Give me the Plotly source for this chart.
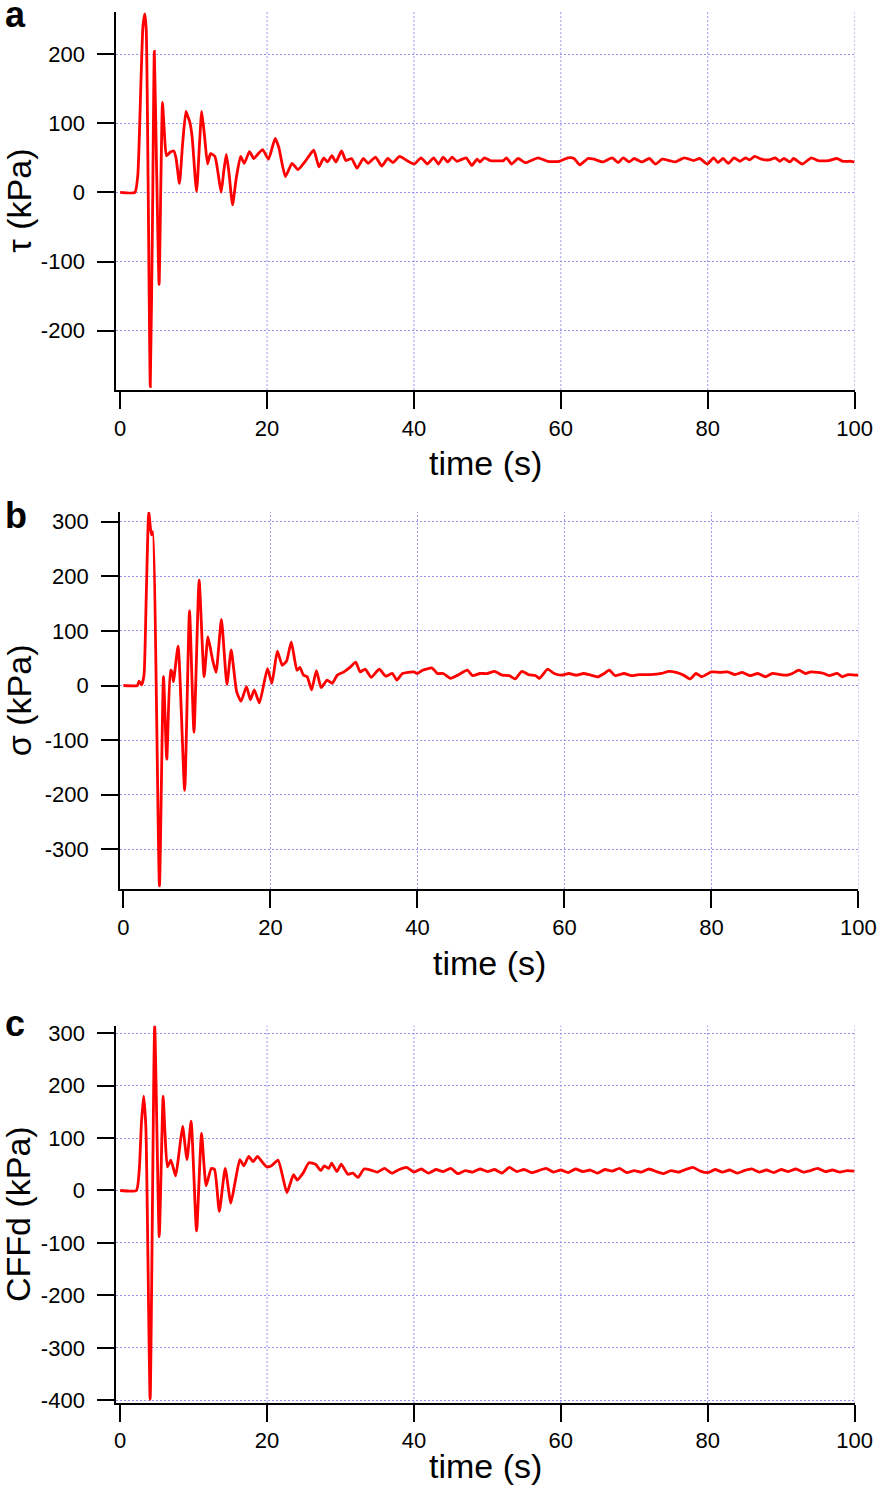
import plotly.graph_objects as go

# ---- data ----
# panel a: shear stress tau (kPa)
t_a = [0, 2.0, 2.4, 2.8, 3.1, 3.35, 3.55, 3.8, 4.1, 4.4,
       4.65, 4.95, 5.3, 5.55, 5.76, 6.0, 6.3, 6.8, 7.3, 7.6,
       8.07, 8.5, 8.95, 9.2, 9.5, 9.8, 10.4, 10.8, 11.1, 11.5,
       11.9, 12.3, 12.9, 13.3, 13.75, 14.1, 14.45, 14.8, 15.3, 15.8,
       16.4, 16.9, 17.6, 18.2, 18.8, 19.4, 20.2, 21.1, 21.6, 22.5,
       23.4, 24.2, 25.2, 26.36, 27.06, 27.72, 28.22, 28.83, 29.38, 30.14,
       30.74, 31.5, 32.25, 33.11, 33.76, 34.77, 35.63, 36.43, 37.14, 38.05,
       39.05, 40.06, 40.97, 41.82, 42.68, 43.34, 43.99, 44.6, 45.2, 45.85,
       47.1, 47.87, 48.6, 49.0, 49.6, 50.4, 52.2, 52.6, 53.3, 54.2,
       55.2, 56.9, 58.2, 59.8, 60.97, 61.8, 62.6, 63.7, 64.5, 65.7,
       67.0, 67.8, 68.5, 69.3, 70.0, 71.04, 72.05, 72.9, 73.8, 74.8,
       75.6, 76.8, 78.1, 78.9, 79.96, 80.8, 81.4, 82.1, 82.8, 83.6,
       84.4, 85.15, 85.7, 86.4, 87.3, 88.4, 89.2, 89.8, 90.4, 91.2,
       91.7, 92.9, 94.1, 95.0, 96.5, 97.6, 98.4, 99.5, 100]
tau = [0, 0, 25, 150, 240, 258, 235, 20, -281, -40,
       204, 40, -133, 20, 130, 90, 53, 58, 60, 50,
       13, 70, 117, 110, 101, 80, 1, 70, 117, 80,
       41, 56, 52, 30, 0, 30, 55, 30, -18, 20,
       52, 42, 59, 49, 56, 62, 48, 78, 65, 23,
       42, 33, 45, 61, 37, 50, 44, 53, 44, 60,
       46, 49, 35, 49, 42, 51, 38, 49, 43, 52,
       46, 41, 50, 41, 50, 41, 51, 44, 51, 45,
       50, 39, 48, 44, 50, 46, 46, 50, 41, 49,
       43, 50, 45, 45, 50, 49, 40, 49, 48, 44,
       50, 43, 50, 44, 49, 44, 49, 41, 48, 46,
       44, 50, 46, 49, 41, 50, 43, 49, 42, 50,
       45, 50, 47, 52, 48, 47, 50, 45, 49, 44,
       49, 41, 50, 46, 46, 49, 45, 45, 44]

# panel b: normal stress sigma (kPa)
t_b = [0, 1.9, 2.13, 2.48, 2.8, 3.1, 3.45, 3.8, 3.99, 4.9,
       5.45, 5.9, 6.4, 6.6, 6.8, 7.44, 8.33, 8.99, 9.6, 10.3,
       10.98, 11.5, 12.1, 12.6, 13.33, 14.08, 14.66, 15.4, 16.0, 16.74,
       17.27, 17.8, 18.5, 19.6, 20.2, 20.94, 21.6, 22.2, 22.84, 23.6,
       24.0, 24.5, 25.0, 25.6, 26.25, 26.9, 27.7, 28.4, 29.1, 30.0,
       30.9, 31.6, 32.2, 32.9, 33.7, 34.8, 35.7, 36.6, 37.2, 37.96,
       39.5, 40.0, 40.7, 42.0, 42.7, 43.5, 44.5, 45.5, 46.8, 47.5,
       48.5, 49.5, 50.5, 51.5, 52.5, 53.3, 54.2, 55.1, 56.1, 56.6,
       57.7, 58.6, 59.6, 60.6, 61.6, 62.6, 63.6, 64.6, 65.4, 66.1,
       66.9, 68.1, 69.1, 70.1, 71.7, 73.2, 74.2, 75.2, 76.2, 77.1,
       77.9, 78.7, 80.0, 81.2, 82.2, 83.2, 84.2, 85.2, 86.3, 87.3,
       88.3, 89.3, 90.3, 91.0, 91.9, 92.8, 93.5, 94.5, 95.3, 96.0,
       97.1, 97.8, 98.6, 99.6, 100]
sigma = [0, 0, 8, 1, 19, 160, 317, 276, 282, -367,
         16, -135, 28, 25, 7, 72, -192, 137, -86, 193,
         16, 89, 49, 24, 121, 2, 65, -11, -29, -2,
         -26, -8, -32, 31, 4, 63, 37, 45, 80, 28,
         33, 19, 16, -8, 27, -4, 10, 4, 19, 25,
         34, 43, 25, 30, 15, 30, 17, 22, 10, 22,
         25, 22, 28, 32, 22, 22, 13, 19, 28, 18,
         22, 22, 26, 19, 18, 12, 26, 20, 18, 13,
         30, 22, 19, 22, 19, 22, 19, 16, 22, 28,
         18, 22, 18, 20, 20, 22, 26, 24, 19, 12,
         22, 16, 25, 24, 25, 20, 24, 18, 22, 16,
         22, 20, 19, 22, 28, 22, 25, 24, 22, 18,
         22, 16, 20, 19, 19]

# panel c: Coulomb failure function change CFFd (kPa)
t_c = [0, 2.2, 2.6, 2.9, 3.2, 3.5, 4.08, 4.7, 5.32, 5.85,
       6.1, 6.43, 6.9, 7.55, 8.0, 8.5, 9.1, 9.66, 10.4, 11.08,
       11.7, 12.4, 12.85, 13.5, 14.3, 15.07, 15.7, 16.3, 16.84, 17.5,
       18.1, 18.7, 19.3, 19.95, 20.6, 21.5, 22.7, 23.6, 24.1, 24.9,
       25.7, 26.6, 27.3, 27.8, 28.4, 28.8, 29.5, 30.1, 31.0, 31.7,
       32.4, 33.2, 34.1, 35.0, 36.0, 37.0, 38.0, 39.0, 40.0, 41.0,
       42.0, 43.0, 44.0, 45.0, 46.0, 47.0, 48.0, 49.0, 50.0, 51.0,
       52.0, 53.0, 54.0, 55.0, 56.0, 57.0, 58.0, 59.0, 60.0, 61.0,
       62.0, 63.0, 64.0, 65.0, 66.0, 67.0, 68.0, 69.0, 70.0, 71.0,
       72.0, 73.0, 74.0, 75.0, 76.0, 77.0, 78.0, 79.0, 80.0, 81.0,
       82.0, 83.0, 84.0, 85.0, 86.0, 87.0, 88.0, 89.0, 90.0, 91.0,
       92.0, 93.0, 94.0, 95.0, 96.0, 97.0, 98.0, 99.0, 100]
cffd = [0, 0, 40, 130, 180, 120, -398, 314, -88, 180,
        110, 45, 58, 28, 70, 122, 59, 132, -77, 109,
        9, 42, 40, -40, 42, -24, 20, 59, 47, 65,
        55, 65, 55, 45, 47, 58, -4, 30, 20, 33,
        53, 50, 38, 47, 42, 52, 36, 50, 31, 33,
        25, 41, 39, 35, 42, 33, 40, 44, 35, 41,
        33, 40, 36, 42, 32, 38, 35, 41, 36, 40,
        33, 44, 36, 40, 34, 38, 42, 35, 39, 34,
        41, 36, 39, 33, 40, 37, 42, 34, 38, 35,
        41, 36, 32, 38, 35, 40, 44, 37, 34, 40,
        35, 39, 33, 38, 41, 35, 39, 34, 40, 36,
        41, 35, 38, 42, 36, 39, 35, 38, 37]

x_ticks = [0, 20, 40, 60, 80, 100]
x_grid = [20, 40, 60, 80, 100]
y_ticks_a = [-200, -100, 0, 100, 200]
y_ticks_b = [-300, -200, -100, 0, 100, 200, 300]
y_ticks_c = [-400, -300, -200, -100, 0, 100, 200, 300]

W, H = 896, 1509
FONT = "Liberation Sans, Arial, Helvetica, sans-serif"
GRID = "#9494f0"
GRID_DASH = "2px,2px"


def fx(p):
    return p / W


def fy(p):
    return 1 - p / H


# pixel boxes of the three plot areas (left, right, top, bottom)
panels = [
    dict(t=t_a, v=tau, yt=y_ticks_a, title="τ (kPa)", letter="a",
         box=(116, 872, 7, 389), xr=[-0.53, 100], yr=[-286, 261],
         xt_y=463, letter_y=10),
    dict(t=t_b, v=sigma, yt=y_ticks_b, title="σ (kPa)", letter="b",
         box=(120, 876, 512, 893), xr=[-0.44, 100], yr=[-373, 318],
         xt_y=968, letter_y=516),
    dict(t=t_c, v=cffd, yt=y_ticks_c, title="CFFd (kPa)", letter="c",
         box=(116, 872, 1031, 1412), xr=[-0.53, 100], yr=[-405, 314],
         xt_y=1476, letter_y=1029),
]

fig = go.Figure()
annotations = []
shapes = []

for i, p in enumerate(panels):
    n = "" if i == 0 else str(i + 1)
    xa, ya = "x" + n, "y" + n
    left, right, top, bottom = p["box"]

    fig.add_trace(go.Scatter(
        x=p["t"], y=p["v"], mode="lines", xaxis=xa, yaxis=ya,
        line=dict(color="#ff0000", width=2.8, shape="spline", smoothing=0.5),
        showlegend=False, hoverinfo="skip"))

    fig.layout["xaxis" + n] = dict(
        domain=[fx(left), fx(right)], range=p["xr"], anchor=ya,
        showline=True, linecolor="black", linewidth=2,
        ticks="outside", ticklen=17, tickwidth=2, tickcolor="black",
        tickvals=x_ticks, ticklabelstandoff=0,
        showgrid=False, zeroline=False,
        tickfont=dict(family=FONT, size=22, color="black"))
    fig.layout["yaxis" + n] = dict(
        domain=[fy(bottom), fy(top)], range=p["yr"], anchor=xa,
        showline=True, linecolor="black", linewidth=2,
        ticks="outside", ticklen=17, tickwidth=2, tickcolor="black",
        tickvals=p["yt"], ticktext=[str(v) for v in p["yt"]],
        ticklabelstandoff=8,
        showgrid=True, gridcolor=GRID, gridwidth=1, griddash=GRID_DASH,
        zeroline=False,
        tickfont=dict(family=FONT, size=22, color="black"))

    # vertical grid lines (none at x = 0)
    for g in x_grid:
        shapes.append(dict(type="line", xref=xa, yref=ya + " domain",
                           x0=g, x1=g, y0=0, y1=1, layer="below",
                           line=dict(color=GRID, width=1, dash=GRID_DASH)))

    annotations.append(dict(
        text=p["title"], xref="paper", yref="paper",
        x=fx(16), y=fy((top + bottom) / 2), textangle=-90,
        showarrow=False, xanchor="center", yanchor="middle",
        font=dict(family=FONT, size=34, color="black")))
    annotations.append(dict(
        text="time (s)", xref="paper", yref="paper",
        x=fx((left + right) / 2), y=fy(p["xt_y"]),
        showarrow=False, xanchor="center", yanchor="middle",
        font=dict(family=FONT, size=34, color="black")))
    annotations.append(dict(
        text="<b>" + p["letter"] + "</b>", xref="paper", yref="paper",
        x=0, y=fy(p["letter_y"]),
        showarrow=False, xanchor="left", yanchor="middle",
        font=dict(family=FONT, size=36, color="black")))

fig.update_layout(
    width=W, height=H,
    margin=dict(l=0, r=0, t=0, b=0),
    paper_bgcolor="white", plot_bgcolor="white",
    annotations=annotations, shapes=shapes,
    hovermode=False,
)

fig.write_html("out.html", config={"displayModeBar": False},
               post_script="document.body.style.margin='0';"
                           "document.body.style.overflow='hidden';")
